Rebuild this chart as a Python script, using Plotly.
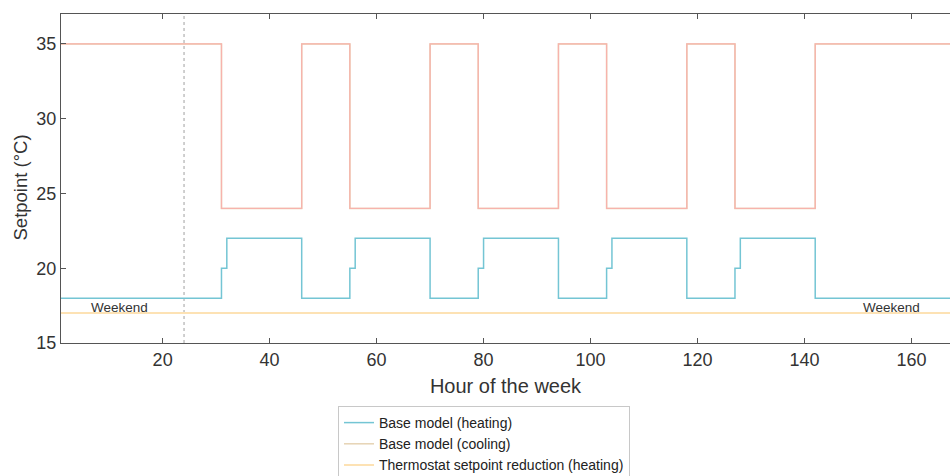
import plotly.graph_objects as go

# Data
hours_heat = [1, 31, 32, 46, 55, 56, 70, 79, 80, 94, 103, 104, 118, 127, 128, 142, 168]
heat_base = [18, 20, 22, 18, 20, 22, 18, 20, 22, 18, 20, 22, 18, 20, 22, 18, 18]
hours_cool = [1, 31, 46, 55, 70, 79, 94, 103, 118, 127, 142, 168]
cool_base = [35, 24, 35, 24, 35, 24, 35, 24, 35, 24, 35, 35]
hours_red = [1, 168]
heat_reduction = [17, 17]
weekend_x = [12, 156.3]
weekend_y = [17.4, 17.4]
x_ticks = [20, 40, 60, 80, 100, 120, 140, 160]
y_ticks = [15, 20, 25, 30, 35]

FONT = "Liberation Sans, Arial, Helvetica"
W, H = 950, 476
PLOT_L, PLOT_T, PLOT_B = 61, 14, 343
PLOT_H = PLOT_B - PLOT_T
PLOT_W = W - PLOT_L

fig = go.Figure()
fig.add_trace(go.Scatter(x=hours_heat, y=heat_base, mode="lines", line_shape="hv",
                         name="Base model (heating)", line=dict(color="#74c5d4", width=1.5)))
fig.add_trace(go.Scatter(x=hours_cool, y=cool_base, mode="lines", line_shape="hv",
                         name="Base model (cooling)", line=dict(color="#e6d3b4", width=1.5)))
fig.add_trace(go.Scatter(x=hours_red, y=heat_reduction, mode="lines", line_shape="hv",
                         name="Thermostat setpoint reduction (heating)",
                         line=dict(color="#fde2b4", width=2)))
fig.add_trace(go.Scatter(x=hours_cool, y=cool_base, mode="lines", line_shape="hv",
                         name="Thermostat setpoint increase (cooling)", showlegend=False,
                         line=dict(color="#f7b3ac", width=1.3)))

for wx, wy in zip(weekend_x, weekend_y):
    fig.add_annotation(x=wx, y=wy, text="Weekend", showarrow=False,
                       font=dict(size=13.5, color="#333", family=FONT))

# y-axis title
fig.add_annotation(xref="paper", yref="paper", x=(20 - PLOT_L) / PLOT_W,
                   y=(PLOT_B - 187.5) / PLOT_H, text="Setpoint (°C)",
                   textangle=-90, showarrow=False, xanchor="center", yanchor="middle",
                   font=dict(size=18.5, color="#333", family=FONT))

fig.add_shape(type="line", x0=24, x1=24, y0=0, y1=1, xref="x", yref="paper",
              line=dict(color="#b0b0b0", width=1.2, dash="dot"), layer="below")

axis_font = dict(size=18, color="#333", family=FONT)
fig.update_layout(
    width=W, height=H,
    margin=dict(l=PLOT_L, r=0, t=PLOT_T, b=H - PLOT_B, autoexpand=False),
    paper_bgcolor="white", plot_bgcolor="white",
    font=dict(family=FONT, color="#333"),
    showlegend=True,
    legend=dict(xref="container", yref="container", x=338 / W,
                y=(H - 406) / H,
                xanchor="left", yanchor="top",
                bgcolor="white", bordercolor="#c8c8c8", borderwidth=1,
                font=dict(size=14, color="#222", family=FONT), tracegroupgap=0,
                itemwidth=30),
    xaxis=dict(range=[1, 167.2], tickvals=x_ticks, ticks="inside", ticklen=5,
               tickcolor="#555", showline=True, linecolor="#555", linewidth=1,
               mirror="ticks", showgrid=False, zeroline=False, tickfont=axis_font,
               title=dict(text="Hour of the week", font=dict(size=20, color="#333", family=FONT),
                          standoff=10)),
    yaxis=dict(range=[15, 37], tickvals=y_ticks, ticks="inside", ticklen=5,
               tickcolor="#555", showline=True, linecolor="#555", linewidth=1,
               showgrid=False, zeroline=False, tickfont=axis_font),
)

fig.write_html("out.html", config={"displayModeBar": False},
               post_script="document.body.style.margin='0';document.body.style.overflow='hidden';")
